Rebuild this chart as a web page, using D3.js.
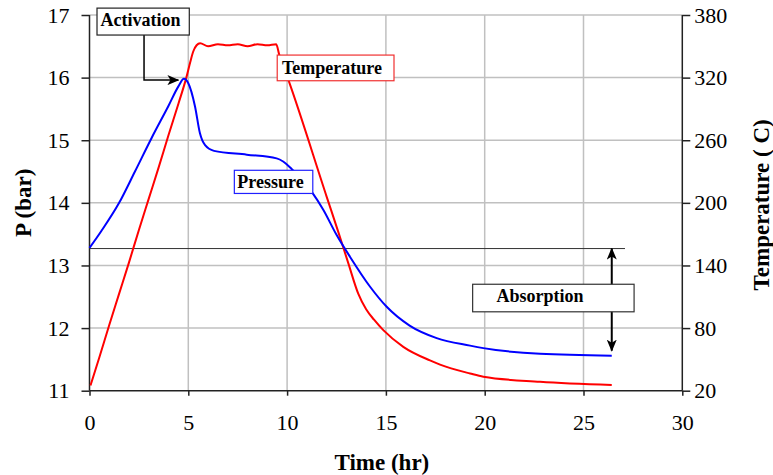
<!DOCTYPE html>
<html lang="en">
<head>
  <meta charset="utf-8">
  <title>Pressure and temperature vs time</title>
  <script type="text/javascript" src="https://cdn.jsdelivr.net/npm/d3@7"></script>
  <style type="text/css">
    body { margin: 0; background: #fff; }
    text { font-family: "Liberation Serif", "Times New Roman", serif; fill: #000; }
    .grid line { stroke: #c0c0c0; stroke-width: 1.5; }
    .axis path, .axis line { stroke: #222; stroke-width: 1.5; }
    .axis text { font-size: 22px; }
    .title { font-size: 23px; font-weight: bold; }
    .note { font-size: 18px; font-weight: bold; }
    .pressureLine { fill: none; stroke: #0000ff; stroke-width: 2; }
    .temperatureLine { fill: none; stroke: #ff0000; stroke-width: 2; }
  </style>
</head>
<body>
  <script type="text/javascript">
  // Data
  var timeTicks = [0, 5, 10, 15, 20, 25, 30];
  var pressureTicks = [11, 12, 13, 14, 15, 16, 17];
  var temperatureTicks = [20, 80, 140, 200, 260, 320, 380];

  var pressureTime = [0, 0.6, 1.5, 2.3, 3.15, 4.0, 4.5, 4.78, 5.0, 5.34, 5.59, 5.85, 6.3, 7.96, 9.47, 9.8,
                      10.23, 11.24, 11.83, 12.5, 13.18, 14.2, 15.04, 16.2, 17.57, 19.26, 19.93, 22.8, 26.43];
  var pressureValue = [13.28, 13.55, 14.0, 14.5, 15.04, 15.55, 15.86, 15.98, 15.91, 15.54, 15.11, 14.92, 14.83, 14.77, 14.71, 14.66,
                       14.54, 14.18, 13.89, 13.49, 13.14, 12.66, 12.34, 12.04, 11.84, 11.72, 11.68, 11.59, 11.56];

  var temperatureTime = [0.05, 0.5, 1.0, 1.5, 2.0, 2.5, 3.0, 3.5, 4.0, 4.5, 4.9, 5.1, 5.25, 5.42, 5.6, 6.0, 6.5, 7.0,
                         7.5, 8.0, 8.5, 9.0, 9.45, 9.6, 10.06, 12.0, 12.61, 13.1, 13.6, 14.0, 14.4, 14.87, 15.88, 17.23,
                         17.74, 19.26, 19.93, 22.8, 26.43];
  var temperatureValue = [25, 52, 83, 113, 143, 174, 204, 234, 265, 295, 320, 335, 345, 351, 353, 350, 352, 351,
                          352, 350, 352, 351, 352, 342, 318, 206, 171, 142, 113, 98, 88, 78, 62, 49,
                          45, 36.5, 33.4, 28.6, 25.5];

  var absorptionLevel = 13.27;

  var w = 773;
  var h = 475;
  var plotLeft = 89.5, plotRight = 682.3, plotTop = 15, plotBottom = 390.7;

  var xScale = d3.scaleLinear().domain([0, 30]).range([plotLeft, plotRight]);
  var yScale = d3.scaleLinear().domain([11, 17]).range([plotBottom, plotTop]);
  var tScale = d3.scaleLinear().domain([20, 380]).range([plotBottom, plotTop]);

  var svg = d3.select("body")
              .append("svg")
              .attr("width", w)
              .attr("height", h);

  var defs = svg.append("defs");
  defs.append("marker")
      .attr("id", "head")
      .attr("viewBox", "0 0 12 10")
      .attr("refX", 11)
      .attr("refY", 5)
      .attr("markerWidth", 12)
      .attr("markerHeight", 10)
      .attr("markerUnits", "userSpaceOnUse")
      .attr("orient", "auto-start-reverse")
      .append("path")
      .attr("d", "M0,0 L12,5 L0,10 L3,5 Z")
      .attr("fill", "#000");

  // gridlines
  var grid = svg.append("g").attr("class", "grid");
  grid.selectAll(".gx")
      .data(timeTicks.slice(1, -1))
      .enter().append("line")
      .attr("x1", function(d) { return xScale(d); })
      .attr("x2", function(d) { return xScale(d); })
      .attr("y1", plotTop)
      .attr("y2", plotBottom);
  grid.selectAll(".gy")
      .data(pressureTicks.slice(1))
      .enter().append("line")
      .attr("x1", plotLeft)
      .attr("x2", plotRight)
      .attr("y1", function(d) { return yScale(d); })
      .attr("y2", function(d) { return yScale(d); });

  // axes
  var xAxis = d3.axisBottom(xScale).tickValues(timeTicks).tickSize(5).tickPadding(19).tickFormat(d3.format("d"));
  var yAxis = d3.axisLeft(yScale).tickValues(pressureTicks).tickSize(8).tickPadding(12).tickFormat(d3.format("d"));
  var tAxis = d3.axisRight(tScale).tickValues(temperatureTicks).tickSize(8).tickPadding(4).tickFormat(d3.format("d"));

  svg.append("g")
     .attr("class", "axis")
     .attr("transform", "translate(0," + plotBottom + ")")
     .call(xAxis)
     .call(function(g) { g.select(".domain").attr("d", "M" + plotLeft + ",0H" + plotRight); });

  svg.append("g")
     .attr("class", "axis")
     .attr("transform", "translate(" + plotLeft + ",0)")
     .call(yAxis)
     .call(function(g) { g.select(".domain").attr("d", "M0," + plotTop + "V" + plotBottom); });

  svg.append("g")
     .attr("class", "axis")
     .attr("transform", "translate(" + plotRight + ",0)")
     .call(tAxis)
     .call(function(g) { g.select(".domain").attr("d", "M0," + plotTop + "V" + plotBottom); });

  // axis titles
  svg.append("text")
     .attr("class", "title")
     .attr("text-anchor", "middle")
     .attr("x", (plotLeft + plotRight) / 2 - 4)
     .attr("y", 470)
     .text("Time (hr)");

  svg.append("text")
     .attr("class", "title")
     .attr("text-anchor", "middle")
     .attr("transform", "translate(31," + ((plotTop + plotBottom) / 2) + ") rotate(-90)")
     .text("P (bar)");

  svg.append("text")
     .attr("class", "title")
     .attr("text-anchor", "middle")
     .attr("transform", "translate(769," + ((plotTop + plotBottom) / 2 + 2) + ") rotate(-90)")
     .text("Temperature ( C)");

  // absorption level line
  svg.append("line")
     .attr("x1", xScale(0))
     .attr("x2", xScale(27.1))
     .attr("y1", yScale(absorptionLevel))
     .attr("y2", yScale(absorptionLevel))
     .attr("stroke", "#333")
     .attr("stroke-width", 1);

  // curves
  var pLine = d3.line()
    .x(function(d) { return xScale(d[0]); })
    .y(function(d) { return yScale(d[1]); })
    .curve(d3.curveMonotoneX);

  var tLine = d3.line()
    .x(function(d) { return xScale(d[0]); })
    .y(function(d) { return tScale(d[1]); })
    .curve(d3.curveMonotoneX);

  svg.append("path")
     .datum(d3.zip(temperatureTime, temperatureValue))
     .attr("class", "temperatureLine")
     .attr("d", tLine);

  svg.append("path")
     .datum(d3.zip(pressureTime, pressureValue))
     .attr("class", "pressureLine")
     .attr("d", pLine);

  // annotations, positioned in data units
  var noteBox = function(x0, x1, p0, p1, tx, tp, label, color) {
    svg.append("rect")
       .attr("x", xScale(x0))
       .attr("y", yScale(p0))
       .attr("width", xScale(x1) - xScale(x0))
       .attr("height", yScale(p1) - yScale(p0))
       .attr("fill", "#fff")
       .attr("stroke", color)
       .attr("stroke-width", 1.2);
    svg.append("text")
       .attr("class", "note")
       .attr("x", xScale(tx))
       .attr("y", yScale(tp))
       .text(label);
  };

  // activation arrow
  svg.append("path")
     .attr("d", "M" + xScale(2.76) + "," + yScale(16.68) + "V" + yScale(15.96) + "H" + xScale(4.5))
     .attr("fill", "none")
     .attr("stroke", "#000")
     .attr("stroke-width", 1.5)
     .attr("marker-end", "url(#head)");

  // absorption double arrow
  svg.append("line")
     .attr("x1", xScale(26.43))
     .attr("x2", xScale(26.43))
     .attr("y1", yScale(absorptionLevel))
     .attr("y2", yScale(11.64))
     .attr("stroke", "#000")
     .attr("stroke-width", 2)
     .attr("marker-start", "url(#head)")
     .attr("marker-end", "url(#head)");

  noteBox(0.38, 5.05, 17.11, 16.68, 0.56, 16.82, "Activation", "#222");
  noteBox(9.5, 15.41, 16.36, 15.95, 9.74, 16.06, "Temperature", "#f03030");
  noteBox(7.33, 11.3, 14.52, 14.15, 7.48, 14.24, "Pressure", "#2020ff");
  noteBox(19.39, 27.56, 12.70, 12.26, 20.6, 12.42, "Absorption", "#333");
  </script>
</body>
</html>
